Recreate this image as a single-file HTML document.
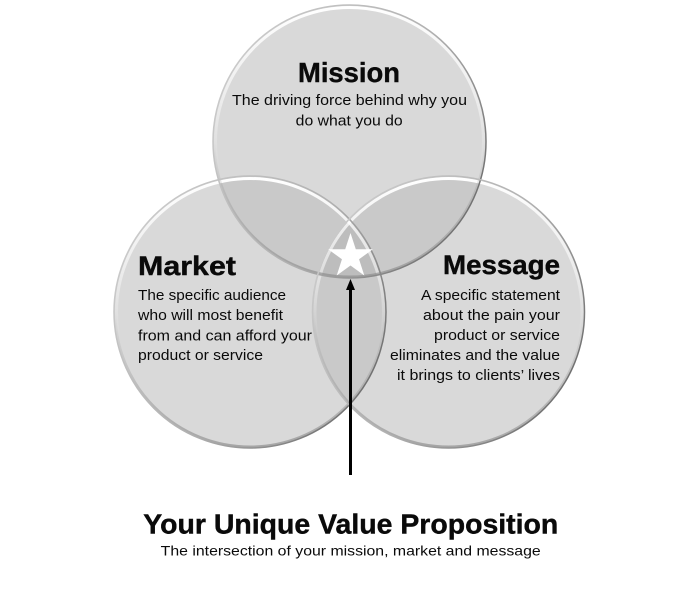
<!DOCTYPE html>
<html>
<head>
<meta charset="utf-8">
<style>
  html,body{margin:0;padding:0;background:#fff;}
  svg{display:block;}
  text{font-family:"Liberation Sans","DejaVu Sans",sans-serif;fill:#0a0a0a;}
  .t{font-weight:bold;stroke:#0a0a0a;stroke-width:0.4;}
</style>
</head>
<body>
<svg width="698" height="600" viewBox="0 0 698 600" xmlns="http://www.w3.org/2000/svg">
  <defs>
    <clipPath id="cT"><circle cx="349.5" cy="141.5" r="137"/></clipPath>
    <clipPath id="cL"><circle cx="250" cy="312" r="136.5"/></clipPath>
    <clipPath id="cR"><circle cx="448.5" cy="312" r="136.5"/></clipPath>
    <linearGradient id="edge" x1="0" y1="0.2" x2="1" y2="0.8">
      <stop offset="0" stop-color="#cdcdcd"/>
      <stop offset="0.55" stop-color="#b0b0b0"/>
      <stop offset="1" stop-color="#666666"/>
    </linearGradient>
    <linearGradient id="hi" x1="0" y1="0" x2="0" y2="1">
      <stop offset="0" stop-color="#ffffff" stop-opacity="1"/>
      <stop offset="0.35" stop-color="#ffffff" stop-opacity="0.5"/>
      <stop offset="0.6" stop-color="#ffffff" stop-opacity="0"/>
    </linearGradient>
    <linearGradient id="lo" x1="0" y1="0" x2="0" y2="1">
      <stop offset="0.5" stop-color="#8a8a8a" stop-opacity="0"/>
      <stop offset="1" stop-color="#8a8a8a" stop-opacity="0.65"/>
    </linearGradient>
  </defs>

  <!-- base fills -->
  <circle cx="349.5" cy="141.5" r="137" fill="#d9d9d9"/>
  <circle cx="250" cy="312" r="136.5" fill="#d9d9d9"/>
  <circle cx="448.5" cy="312" r="136.5" fill="#d9d9d9"/>

  <!-- pairwise overlaps -->
  <g clip-path="url(#cT)"><circle cx="250" cy="312" r="136.5" fill="#c9c9c9"/></g>
  <g clip-path="url(#cT)"><circle cx="448.5" cy="312" r="136.5" fill="#c9c9c9"/></g>
  <g clip-path="url(#cL)"><circle cx="448.5" cy="312" r="136.5" fill="#c9c9c9"/></g>
  <!-- triple overlap -->
  <g clip-path="url(#cT)"><g clip-path="url(#cL)"><circle cx="448.5" cy="312" r="136.5" fill="#bdbdbd"/></g></g>

  <!-- rims -->
  <g fill="none">
    <circle cx="349.5" cy="141.5" r="134" stroke="url(#hi)" stroke-width="3"/>
    <circle cx="250" cy="312" r="133.5" stroke="url(#hi)" stroke-width="3"/>
    <circle cx="448.5" cy="312" r="133.5" stroke="url(#hi)" stroke-width="3"/>
    <circle cx="349.5" cy="141.5" r="135.3" stroke="url(#lo)" stroke-width="2.5"/>
    <circle cx="250" cy="312" r="134.8" stroke="url(#lo)" stroke-width="2.5"/>
    <circle cx="448.5" cy="312" r="134.8" stroke="url(#lo)" stroke-width="2.5"/>
    <circle cx="349.5" cy="141.5" r="136.5" stroke="url(#edge)" stroke-width="1.5"/>
    <circle cx="250" cy="312" r="136" stroke="url(#edge)" stroke-width="1.5"/>
    <circle cx="448.5" cy="312" r="136" stroke="url(#edge)" stroke-width="1.5"/>
  </g>

  <!-- star -->
  <polygon fill="#ffffff" points="350.5,233 355.79,249.22 372.85,249.24 359.06,259.28 364.31,275.51 350.5,265.5 336.69,275.51 341.94,259.28 328.15,249.24 345.21,249.22"/>

  <!-- arrow -->
  <line x1="350.5" y1="475" x2="350.5" y2="287" stroke="#000" stroke-width="3"/>
  <polygon fill="#000" points="350.5,279 346,290 355,290"/>

  <!-- Mission -->
  <text class="t" x="349" y="82" font-size="28" text-anchor="middle" textLength="102" lengthAdjust="spacingAndGlyphs">Mission</text>
  <text x="349.5" y="105" font-size="15" text-anchor="middle" textLength="235" lengthAdjust="spacingAndGlyphs">The driving force behind why you</text>
  <text x="349.2" y="125.5" font-size="15" text-anchor="middle" textLength="107" lengthAdjust="spacingAndGlyphs">do what you do</text>

  <!-- Market -->
  <text class="t" x="138" y="275" font-size="27" textLength="98" lengthAdjust="spacingAndGlyphs">Market</text>
  <text x="138" y="300" font-size="15" textLength="148" lengthAdjust="spacingAndGlyphs">The specific audience</text>
  <text x="138" y="320" font-size="15" textLength="145" lengthAdjust="spacingAndGlyphs">who will most benefit</text>
  <text x="138" y="340.5" font-size="15" textLength="174" lengthAdjust="spacingAndGlyphs">from and can afford your</text>
  <text x="138" y="360" font-size="15" textLength="125" lengthAdjust="spacingAndGlyphs">product or service</text>

  <!-- Message -->
  <text class="t" x="560" y="274" font-size="27" text-anchor="end" textLength="117" lengthAdjust="spacingAndGlyphs">Message</text>
  <text x="560" y="300" font-size="15" text-anchor="end" textLength="139" lengthAdjust="spacingAndGlyphs">A specific statement</text>
  <text x="560" y="320" font-size="15" text-anchor="end" textLength="137" lengthAdjust="spacingAndGlyphs">about the pain your</text>
  <text x="560" y="340" font-size="15" text-anchor="end" textLength="126" lengthAdjust="spacingAndGlyphs">product or service</text>
  <text x="560" y="360" font-size="15" text-anchor="end" textLength="170" lengthAdjust="spacingAndGlyphs">eliminates and the value</text>
  <text x="560" y="380" font-size="15" text-anchor="end" textLength="163" lengthAdjust="spacingAndGlyphs">it brings to clients’ lives</text>

  <!-- bottom -->
  <text class="t" x="350.8" y="533.5" font-size="28" text-anchor="middle" textLength="415" lengthAdjust="spacingAndGlyphs">Your Unique Value Proposition</text>
  <text x="350.7" y="555.5" font-size="14" text-anchor="middle" textLength="380" lengthAdjust="spacingAndGlyphs">The intersection of your mission, market and message</text>
</svg>
</body>
</html>
